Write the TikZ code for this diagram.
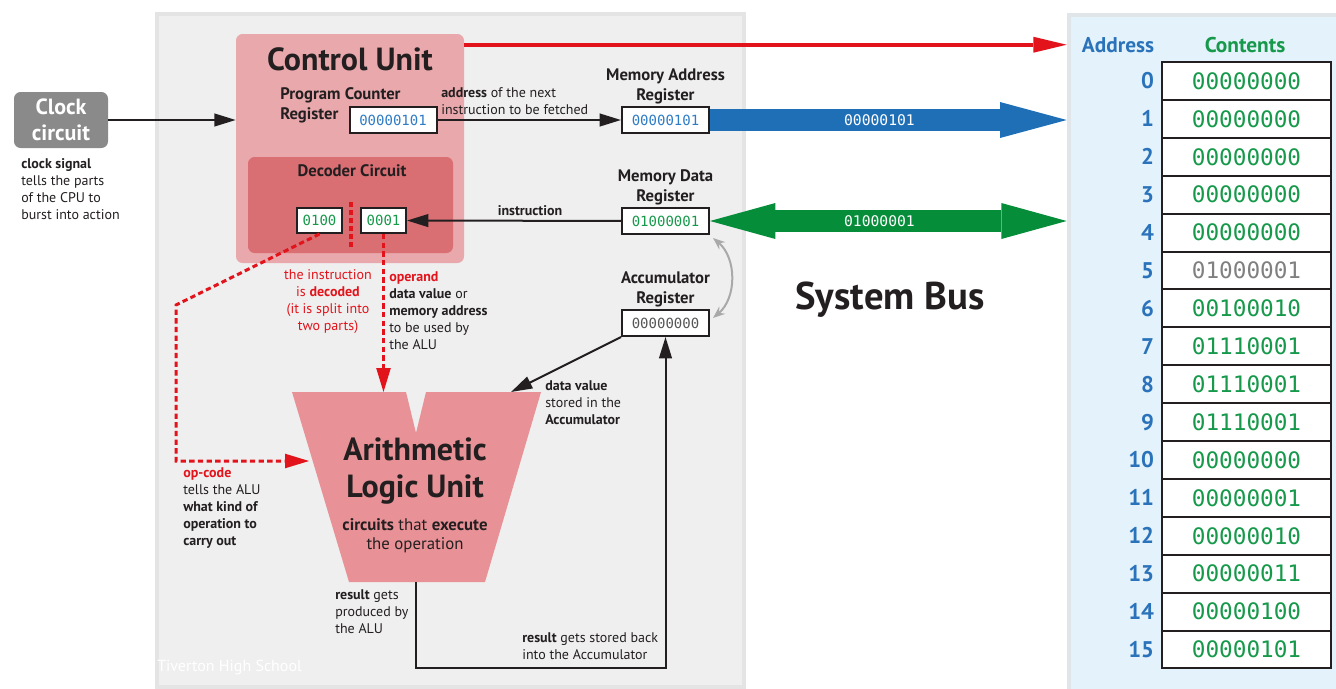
\documentclass[tikz,border=0pt]{standalone}
\usepackage{fontspec}
\setmainfont{PT Sans}
\setmonofont{DejaVu Sans Mono}
\usetikzlibrary{positioning,arrows.meta}
\definecolor{ink}{HTML}{231F20}
\definecolor{cpufill}{HTML}{EFEFEF}
\definecolor{cpuedge}{HTML}{E4E4E4}
\definecolor{memfill}{HTML}{E4F2FB}
\definecolor{memedge}{HTML}{E0E5E9}
\definecolor{cupink}{HTML}{E9A8AB}
\definecolor{decred}{HTML}{D96E73}
\definecolor{alupink}{HTML}{E89196}
\definecolor{cured}{HTML}{E3131B}
\definecolor{busblue}{HTML}{1F6FB7}
\definecolor{busgreen}{HTML}{068D3A}
\definecolor{valgreen}{HTML}{16994A}
\definecolor{valblue}{HTML}{2E7BC6}
\definecolor{addrblue}{HTML}{2A73BA}
\definecolor{clockgray}{HTML}{8A8A8A}
\definecolor{arcgray}{HTML}{A9A9A9}
\definecolor{accgray}{HTML}{555555}
\definecolor{memgray}{HTML}{808080}
\tikzstyle{panel}=[draw=cpuedge, line width=3.5pt, fill=cpufill, inner sep=0pt]
\tikzstyle{unit}=[rounded corners=5pt, inner sep=0pt]
\tikzstyle{reg}=[draw=ink, line width=1.5pt, fill=white, minimum width=65.25pt, minimum height=19.5pt, inner sep=0pt, font=\ttfamily\fontsize{10.5}{12}\selectfont]
\tikzstyle{half}=[reg, minimum width=33.75pt, minimum height=18.75pt, text=valgreen]
\tikzstyle{lbl}=[font=\bfseries\fontsize{12.5}{15}\selectfont, align=center, text=ink, inner sep=0pt]
\tikzstyle{note}=[font=\fontsize{10.5}{12.75}\selectfont, align=left, text=ink, inner sep=0pt]
\tikzstyle{arr}=[draw=ink, line width=1.5pt, -{Triangle[length=16pt,width=9.5pt]}]
\tikzstyle{reddash}=[draw=cured, line width=2.25pt, dash pattern=on 4pt off 2.5pt, -{Triangle[length=18pt,width=11pt,line width=0pt]}]
\tikzstyle{bus}=[line width=16.5pt]
\tikzstyle{buslbl}=[text=white, font=\ttfamily\fontsize{11}{12}\selectfont]
\tikzstyle{memcell}=[draw=ink, line width=1.5pt, fill=white, minimum width=126.75pt, minimum height=28.4pt, inner sep=0pt, font=\ttfamily\fontsize{17}{18}\selectfont]
\tikzstyle{addrnum}=[text=addrblue, inner sep=0pt, font=\bfseries\fontsize{17}{18}\selectfont]
\tikzstyle{memhead}=[font=\bfseries\fontsize{16}{18}\selectfont, inner sep=0pt]

\begin{document}
\begin{tikzpicture}[x=0.75pt, y=-0.75pt]
	\useasboundingbox (0,0) rectangle (1336,689);
	% panels
	\node[panel, minimum width=440.25pt, minimum height=504.75pt] (cpu) at (450.5,350.5) {};
	\node[panel, draw=memedge, fill=memfill, minimum width=207pt, minimum height=512.25pt] (mem) at (1207,356.5) {};
	% control unit
	\node[unit, fill=cupink, minimum width=171pt, minimum height=171.75pt] (cu) at (350,148.5) {};
	\node[font=\bfseries\fontsize{24}{28}\selectfont, text=ink] (cutitle) at (350,59) {Control Unit};
	\node[unit, fill=decred, minimum width=153.75pt, minimum height=72pt] (dec) at (350.5,205) {};
	\node[lbl] (dectitle) at (352,171) {Decoder Circuit};
	\node[reg, text=valblue] (pc) at (393,120) {00000101};
	\node[lbl, anchor=west, align=left] (pclbl) at (280,105) {Program Counter\\Register};
	\node[half] (op) at (319.5,220.5) {0100};
	\node[half] (opd) at (383.5,220.5) {0001};
	\draw[draw=cured, line width=3pt, dash pattern=on 4pt off 2pt] (351,202) -- (351,248);
	% registers
	\node[reg, text=valblue] (mar) at (665.5,120) {00000101};
	\node[lbl, above=1.5pt of mar] (marlbl) {Memory Address\\Register};
	\node[reg, text=valgreen] (mdr) at (665.5,221) {01000001};
	\node[lbl, above=1.5pt of mdr] (mdrlbl) {Memory Data\\Register};
	\node[reg, text=accgray] (acc) at (665.5,323) {00000000};
	\node[lbl, above=1.5pt of acc] (acclbl) {Accumulator\\Register};
	% clock
	\node[unit, fill=clockgray, minimum width=70.5pt, minimum height=42pt, text=white, align=center, font=\bfseries\fontsize{16.5}{19.5}\selectfont] (clock) at (61,120) {Clock\\circuit};
	\node[note, anchor=west] (clocknote) at (21,189) {\textbf{clock signal}\\tells the parts\\of the CPU to\\burst into action};
	% ALU
	\fill[alupink] (292,392) -- (406,392) -- (416,433) -- (426,392) -- (541,392) -- (485,582) -- (349,582) -- cycle;
	\node[font=\bfseries\fontsize{24}{27.75}\selectfont, align=center, text=ink] (alu) at (415,471) {Arithmetic\\Logic Unit};
	\node[font=\fontsize{12.6}{14}\selectfont, align=center, text=ink] (alunote) at (415,536) {\textbf{circuits} that \textbf{execute}\\the operation};
	\coordinate (aluop) at (309,461);
	\coordinate (alutop) at (383.5,392);
	\coordinate (aluacc) at (511,392);
	\coordinate (alubot) at (416,582);
	\coordinate (loopbot) at (416,668);
	\coordinate (opbend) at (176,305);
	\coordinate (cutop) at ([yshift=-8.25pt]cu.north east);
	% connectors
	\draw[arr] (clock) -- (clock -| cu.west);
	\draw[arr] (pc) -- (mar);
	\draw[arr] (mdr) -- (opd);
	\draw[arr] (acc.south west) -- (aluacc);
	\draw[arr] (alubot) -- (loopbot) -| (acc);
	\draw[reddash] (op.south) -- (opbend) |- (aluop);
	\draw[reddash] (opd) -- (alutop);
	\draw[draw=cured, line width=3pt, -{Triangle[length=25pt,width=12pt,line width=0pt]}] (cutop) -- (cutop -| mem.west);
	\draw[bus, draw=busblue, -{Triangle[length=50pt,width=27pt,line width=0pt]}] (mar.east) -- (mar.east -| mem.west) node[pos=0.475, buslbl] {00000101};
	\draw[bus, draw=busgreen, line width=17pt, {Triangle[length=49pt,width=27pt,line width=0pt]}-{Triangle[length=49pt,width=27pt,line width=0pt]}] (mdr.east) -- (mdr.east -| mem.west) node[pos=0.475, buslbl] {01000001};
	\draw[draw=arcgray, line width=1.5pt, {Stealth[length=9pt,width=7pt]}-{Stealth[length=9pt,width=7pt]}] ([shift={(3,3)}]mdr.south east) to[bend left=50] ([shift={(3,-5)}]acc.east);
	% notes
	\node[note, anchor=west] (addrnote) at (441,101) {\textbf{address} of the next\\instruction to be fetched};
	\node[note, font=\bfseries\fontsize{10.5}{12.75}\selectfont] (instrnote) at (530,211) {instruction};
	\node[note, align=center, text=cured] (decnote) at (328,302) {the instruction\\is \textbf{decoded}\\(it is split into\\two parts)};
	\node[note, anchor=west] (opdnote) at (389,311) {\textcolor{cured}{\textbf{operand}}\\\textbf{data value} or\\\textbf{memory address}\\to be used by\\the ALU};
	\node[note, anchor=west] (opnote) at (183,508) {\textcolor{cured}{\textbf{op-code}}\\tells the ALU\\\textbf{what kind of}\\\textbf{operation to}\\\textbf{carry out}};
	\node[note, anchor=west] (accnote) at (545,403) {\textbf{data value}\\stored in the\\\textbf{Accumulator}};
	\node[note, anchor=west] (resnote) at (335,612) {\textbf{result} gets\\produced by\\the ALU};
	\node[note, anchor=west] (backnote) at (522,646) {\textbf{result} gets stored back\\into the Accumulator};
	\node[note, text=white, anchor=west, font=\fontsize{12}{14}\selectfont] (school) at (157,667) {Tiverton High School};
	\node[font=\bfseries\fontsize{29}{34}\selectfont, text=ink] (busname) at (890,300) {System Bus};
	% memory
	\node[memhead, text=addrblue] (addrhead) at (1118,45) {Address};
	\node[memhead, text=valgreen] (conthead) at (1245,45) {Contents};
	\foreach \i/\val/\col in {0/00000000/valgreen, 1/00000000/valgreen, 2/00000000/valgreen, 3/00000000/valgreen, 4/00000000/valgreen, 5/01000001/memgray, 6/00100010/valgreen, 7/01110001/valgreen, 8/01110001/valgreen, 9/01110001/valgreen, 10/00000000/valgreen, 11/00000001/valgreen, 12/00000010/valgreen, 13/00000011/valgreen, 14/00000100/valgreen, 15/00000101/valgreen} {
		\node[memcell, text=\col] (m\i) at (1246.5,81+37.9*\i) {\val};
		\node[addrnum, left=5pt of m\i] (a\i) {\i};
	}
\end{tikzpicture}
\end{document}
